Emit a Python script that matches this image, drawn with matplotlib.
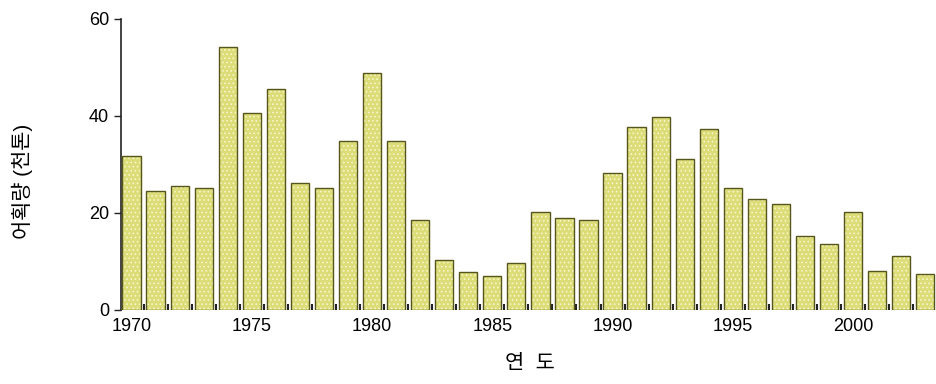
import numpy as np
import matplotlib
matplotlib.use("Agg")
import matplotlib.pyplot as plt

plt.rcParams["font.family"] = ["Liberation Sans", "Noto Sans CJK KR", "DejaVu Sans"]
plt.rcParams["hatch.linewidth"] = 0.7

years = list(range(1970, 2004))
catch = [31.8, 24.5, 25.6, 25.2, 54.2, 40.6, 45.6, 26.2, 25.2, 34.9,
         48.9, 34.9, 18.6, 10.3, 7.8, 7.0, 9.7, 20.2, 19.0, 18.6,
         28.2, 37.7, 39.8, 31.1, 37.3, 25.2, 22.9, 21.9, 15.3, 13.6,
         20.2, 8.0, 11.1, 7.4]
xticks = [1970, 1975, 1980, 1985, 1990, 1995, 2000]
yticks = [0, 20, 40, 60]

fig = plt.figure(figsize=(9.36, 3.84), dpi=100)
ax = fig.add_axes([0.129, 0.193, 0.871, 0.7578])

# fill with a light dotted pattern, then the dark outline on top
ax.bar(years, catch, width=0.76, facecolor="#dcdc78", edgecolor="#f6f6c8",
       linewidth=0, hatch="....", zorder=2)
ax.bar(years, catch, width=0.76, fill=False, edgecolor="#55551c",
       linewidth=1.0, zorder=3)

ax.set_xlim(1969.55, 2003.45)
ax.set_ylim(0, 60)
ax.set_xticks(xticks)
ax.set_xticks(np.arange(1970.5, 2003, 1.0), minor=True)
ax.set_yticks(yticks)
ax.tick_params(axis="x", which="major", length=0, labelsize=13, pad=6)
ax.tick_params(axis="x", which="minor", length=4, width=1.5, direction="in", color="#222222")
ax.tick_params(axis="y", length=5, width=1, labelsize=13, direction="out", color="#222222")
for s in ["top", "right", "bottom"]:
    ax.spines[s].set_visible(False)
ax.spines["left"].set_linewidth(1.2)
ax.spines["left"].set_color("#222222")

ax.set_xlabel("연  도", fontsize=15)
ax.set_ylabel("어획량 (천톤)", fontsize=15)
ax.xaxis.set_label_coords(0.502, -0.15)
ax.yaxis.set_label_coords(-0.108, 0.44)

fig.savefig("out.png", dpi=100)
